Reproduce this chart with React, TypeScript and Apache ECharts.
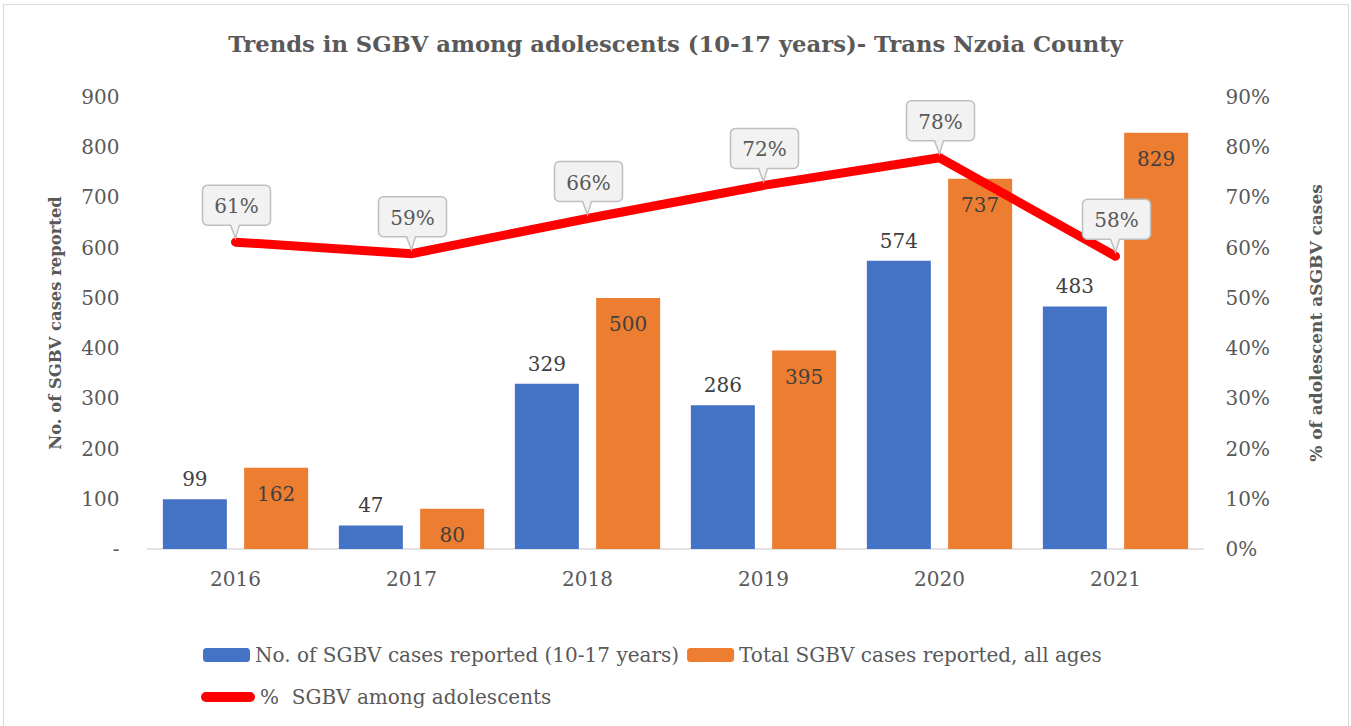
import React, { useEffect, useRef } from "react";
import * as echarts from "echarts";

const years = ["2016", "2017", "2018", "2019", "2020", "2021"];
const adolescentCases = [99, 47, 329, 286, 574, 483];
const totalCases = [162, 80, 500, 395, 737, 829];
const adolescentPct = [61.1, 58.8, 65.8, 72.4, 77.9, 58.3];

const seriesNames = [
  "No. of SGBV cases reported (10-17 years)",
  "Total SGBV cases reported, all ages",
  "%  SGBV among adolescents",
];

const FONT = "'DejaVu Serif', 'Liberation Serif', serif";
const GREY = "#595959";

export default function App() {
  const ref = useRef<HTMLDivElement>(null);

  useEffect(() => {
    document.body.style.margin = "0";
    const chart = echarts.init(ref.current!, null, { renderer: "svg" });
    const option: any = {
      animation: false,
      backgroundColor: "#ffffff",
      textStyle: { fontFamily: FONT, color: GREY },
      title: {
        text: "Trends in SGBV among adolescents (10-17 years)- Trans Nzoia County",
        left: "center",
        top: 27,
        textStyle: { fontFamily: FONT, fontSize: 22.7, fontWeight: "bold", color: GREY },
      },
      legend: [
        {
          data: [seriesNames[0], seriesNames[1]],
          left: 198,
          top: 640,
          itemWidth: 47,
          itemHeight: 14,
          itemGap: 8,
          textStyle: { fontFamily: FONT, fontSize: 20, color: GREY },
        },
        {
          data: [
            {
              name: seriesNames[2],
              icon: "path://M5,0 L49,0 A5,5 0 0 1 49,10 L5,10 A5,5 0 0 1 5,0 Z",
            },
          ],
          left: 196,
          top: 682,
          itemWidth: 54,
          itemHeight: 10,
          textStyle: { fontFamily: FONT, fontSize: 20, color: GREY },
        },
      ],
      grid: { left: 147.5, right: 147.5, top: 97, bottom: 177 },
      xAxis: {
        type: "category",
        data: years,
        axisLine: { lineStyle: { color: "#D9D9D9", width: 1.5 } },
        axisTick: { show: false },
        axisLabel: { fontFamily: FONT, fontSize: 20, color: GREY, margin: 20 },
      },
      yAxis: [
        {
          type: "value",
          min: 0,
          max: 900,
          interval: 100,
          name: "No. of SGBV cases reported",
          nameLocation: "middle",
          nameGap: 84,
          nameTextStyle: { fontFamily: FONT, fontSize: 16.4, fontWeight: "bold", color: GREY },
          splitLine: { show: false },
          axisLine: { show: false },
          axisTick: { show: false },
          axisLabel: {
            fontFamily: FONT,
            fontSize: 20,
            color: GREY,
            margin: 28,
            formatter: (v: number) => (v === 0 ? "-" : String(v)),
          },
        },
        {
          type: "value",
          min: 0,
          max: 90,
          interval: 10,
          name: "% of adolescent aSGBV cases",
          nameLocation: "middle",
          nameGap: 104,
          nameTextStyle: { fontFamily: FONT, fontSize: 17, fontWeight: "bold", color: GREY },
          splitLine: { show: false },
          axisLine: { show: false },
          axisTick: { show: false },
          axisLabel: {
            fontFamily: FONT,
            fontSize: 20,
            color: GREY,
            margin: 22,
            formatter: (v: number) => v + "%",
          },
        },
      ],
      series: [
        {
          name: seriesNames[0],
          type: "bar",
          data: adolescentCases,
          barWidth: 64,
          barGap: "27%",
          itemStyle: { color: "#4472C4" },
          label: {
            show: true,
            position: "top",
            distance: 10,
            fontFamily: FONT,
            fontSize: 20,
            color: "#404040",
          },
        },
        {
          name: seriesNames[1],
          type: "bar",
          data: totalCases,
          barWidth: 64,
          itemStyle: { color: "#ED7D31" },
          label: {
            show: true,
            position: "insideTop",
            distance: 16,
            fontFamily: FONT,
            fontSize: 20,
            color: "#404040",
          },
        },
        {
          name: seriesNames[2],
          type: "line",
          yAxisIndex: 1,
          data: adolescentPct,
          symbol: "none",
          z: 5,
          itemStyle: { color: "#FF0000" },
          lineStyle: { color: "#FF0000", width: 9, cap: "round", join: "miter" },
        },
        {
          name: "callouts",
          type: "custom",
          yAxisIndex: 1,
          z: 10,
          data: adolescentPct.map((v, i) => [i, v]),
          renderItem: (params: any, api: any) => {
            const v = api.value(1);
            const p = api.coord([api.value(0), v]);
            const w = 68;
            const h = 40;
            const cx = p[0] + 1;
            const bottom = p[1] - 17;
            const top = bottom - h;
            const tipY = p[1] - 4;
            return {
              type: "group",
              children: [
                {
                  type: "rect",
                  shape: { x: cx - w / 2, y: top, width: w, height: h, r: 5 },
                  style: { fill: "#F2F2F2", stroke: "#BFBFBF", lineWidth: 1.5 },
                },
                {
                  type: "polygon",
                  shape: {
                    points: [
                      [p[0] - 5, bottom - 2],
                      [p[0] + 4, bottom - 2],
                      [p[0], tipY],
                    ],
                  },
                  style: { fill: "#F2F2F2" },
                },
                {
                  type: "polyline",
                  shape: {
                    points: [
                      [p[0] - 5, bottom],
                      [p[0], tipY],
                      [p[0] + 4, bottom],
                    ],
                  },
                  style: { stroke: "#BFBFBF", fill: null, lineWidth: 1.5 },
                },
                {
                  type: "text",
                  x: cx,
                  y: top + h / 2 + 1,
                  style: {
                    text: Math.round(v) + "%",
                    fill: GREY,
                    fontFamily: FONT,
                    fontSize: 20,
                    align: "center",
                    verticalAlign: "middle",
                  },
                },
              ],
            };
          },
        },
      ],
    };
    chart.setOption(option);
    return () => chart.dispose();
  }, []);

  return (
    <div style={{ position: "absolute", left: 0, top: 0, width: 1351, height: 726, overflow: "hidden" }}>
      <div ref={ref} style={{ position: "absolute", left: 0, top: 0, width: 1351, height: 726 }} />
      <div
        style={{
          position: "absolute",
          left: 3,
          top: 4,
          width: 1344,
          height: 740,
          border: "1px solid #D9D9D9",
          pointerEvents: "none",
        }}
      />
    </div>
  );
}
